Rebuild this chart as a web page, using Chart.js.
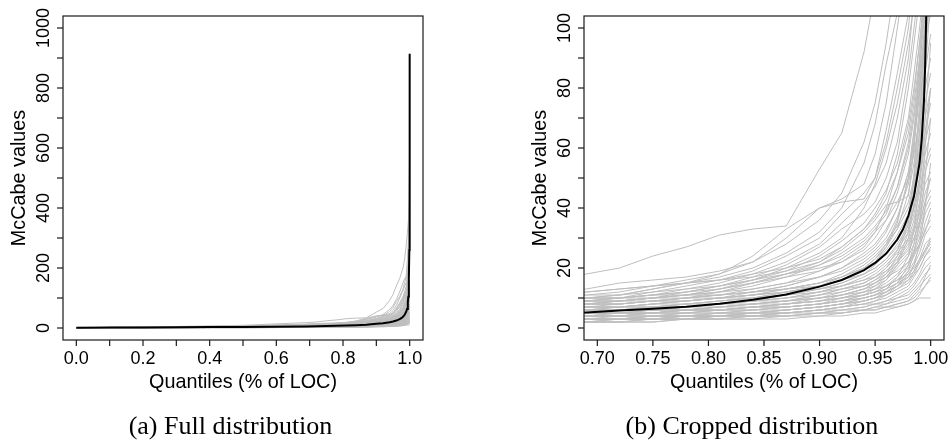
<!DOCTYPE html>
<html>
<head>
<meta charset="utf-8">
<script src="https://cdn.jsdelivr.net/npm/chart.js@4/dist/chart.umd.min.js"></script>
<style>
  html, body { margin: 0; padding: 0; background: #fff; }
  #wrap { position: relative; width: 952px; height: 447px; overflow: hidden; }
  canvas { position: absolute; top: 0; }
  .cap { position: absolute; top: 413px; font-family: "Liberation Serif", "DejaVu Serif", serif; font-size: 26px; line-height: 26px; white-space: nowrap; transform: translateX(-50%); color: #000; }
</style>
</head>
<body>
<div id="wrap">
  <canvas id="left" width="476" height="447" style="left:0"></canvas>
  <canvas id="right" width="476" height="447" style="left:476px"></canvas>
  <div class="cap" style="left:230.5px">(a) Full distribution</div>
  <div class="cap" style="left:752px">(b) Cropped distribution</div>
</div>
<script>
// ---- data ----
const quantiles = [0, 0.25, 0.5, 0.69, 0.72, 0.75, 0.78, 0.81, 0.84, 0.87, 0.9, 0.92, 0.94, 0.95, 0.96, 0.97, 0.98, 0.985, 0.99, 0.995, 1.0];

const projectCurves = [
  [1,4,9,18,20,24,27,31,33,34,53,65,92,112,140,165,200,230,280,340,420],
  [1,3,7,13,15,16,17,19,22,28,36,45,62,75,95,120,150,165,168,170,175],
  [1,3,6,11,12,14,16,18,22,30,40,43,48,58,75,100,125,140,150,220,600],
  [1,3,6,10,11,13,15,17,20,25,32,40,55,68,88,105,130,150,180,260,320],
  [1,3,6,10,10,12,14,16,19,24,30,38,45,50,62,80,100,120,140,200,240],
  [1,2,5,9,10,11,13,15,18,22,28,35,42,47,55,70,90,110,125,160,190],
  [1,2,5,9,10,11,12,14,17,21,27,33,38,42,50,62,85,100,115,135,150],
  [1,2,5,9,9,10,12,14,16,20,25,30,40,48,60,75,95,108,120,140,160],
  [1,2,5,8,9,10,11,13,16,19,24,29,35,40,46,55,70,85,100,118,130],
  [1,2,5,8,9,10,11,12,15,18,22,27,33,37,43,52,65,78,95,110,125],
  [1,2,4,8,8,9,10,12,14,17,21,25,30,34,39,47,60,72,88,105,120],
  [1,2,5,8,9,10,11,13,15,18,20,22,26,30,36,45,58,70,85,100,110],
  [1,2,5,9,10,11,12,13,15,17,19,22,27,32,40,52,68,80,95,115,135],
  [1,3,6,12,13,14,15,16,17,19,22,26,32,36,41,42,44,60,90,120,140],
  [1,3,6,10,11,13,15,18,24,33,40,42,43,50,66,85,105,120,135,150,160],
  [1,3,6,12,13,14,15,16,18,20,23,27,33,38,45,58,80,95,110,130,150],
  [1,3,5,11,11,12,13,14,16,18,21,24,29,33,38,47,62,75,90,110,125],
  [1,2,4,8,8,9,10,11,13,15,19,23,28,32,36,42,50,58,70,95,110],
  [1,2,4,7,8,9,10,11,12,14,17,20,25,28,33,40,52,62,78,100,115],
  [1,2,4,7,7,8,9,10,12,14,17,19,23,26,30,37,48,60,80,95,105],
  [1,2,4,7,7,8,9,10,11,13,15,18,22,25,29,34,42,50,65,85,98],
  [1,2,4,6,7,7,8,9,10,12,14,17,21,24,28,33,40,48,60,80,90],
  [1,2,4,6,7,7,8,9,10,12,14,16,20,22,26,31,38,46,58,75,85],
  [1,2,4,6,6,7,8,9,10,11,13,15,18,21,25,30,36,44,55,70,80],
  [1,2,3,6,6,7,7,8,9,11,13,15,18,20,23,28,34,40,50,65,75],
  [1,2,3,6,6,7,7,8,9,10,12,14,17,19,22,26,32,38,48,62,70],
  [1,2,3,6,6,6,7,8,9,10,12,14,16,18,21,25,30,36,45,58,65],
  [1,2,3,5,6,6,7,8,8,9,11,13,15,17,20,24,29,34,42,55,60],
  [1,2,3,5,5,6,6,7,8,9,11,12,14,16,19,23,28,33,40,52,58],
  [1,2,3,5,5,6,6,7,8,9,10,12,14,16,18,22,27,32,38,48,52],
  [1,2,3,5,5,5,6,7,7,8,10,11,13,15,17,21,25,30,36,45,50],
  [1,2,3,5,5,5,6,6,7,8,9,11,13,14,16,20,24,28,34,42,46],
  [1,2,3,5,5,6,6,7,8,9,10,11,13,15,18,24,35,50,70,100,130],
  [1,2,3,4,5,5,6,6,7,8,9,10,12,14,17,22,32,45,65,90,120],
  [1,1,2,4,4,5,5,6,6,7,8,9,11,13,16,21,30,42,60,85,110],
  [1,2,3,6,6,7,7,8,9,10,11,13,15,17,20,26,36,52,75,105,140],
  [1,2,4,7,7,8,9,10,11,12,14,16,19,22,27,35,50,65,85,110,130],
  [1,2,4,8,8,9,9,10,11,13,15,17,20,23,27,33,45,55,70,95,115],
  [1,2,4,9,9,10,10,11,12,13,15,17,20,23,28,36,50,62,80,100,125],
  [1,2,5,10,10,11,11,12,13,15,17,20,24,27,32,40,52,66,82,100,118],
  [1,1,2,3,3,4,4,4,5,6,7,8,10,11,13,17,24,33,48,70,95],
  [1,1,2,3,3,3,4,4,5,5,6,7,9,10,12,15,21,28,40,60,80],
  [1,1,2,2,3,3,3,4,4,5,6,7,8,9,11,14,19,25,35,50,70],
  [1,1,2,3,3,4,4,5,5,6,7,8,9,10,12,14,17,21,28,40,55],
  [1,2,3,5,5,5,6,6,7,7,8,9,10,11,12,14,16,18,20,24,27],
  [1,2,3,6,6,6,7,7,8,8,9,10,11,12,13,15,17,19,22,25,29],
  [1,2,3,7,7,8,8,8,9,9,10,11,12,13,14,16,18,20,23,26,30],
  [1,2,4,8,8,9,9,10,10,11,12,13,14,15,17,19,22,25,28,32,38],
  [1,2,4,9,9,9,10,10,11,12,13,14,16,17,19,22,26,30,35,42,50],
  [1,2,4,10,10,10,11,11,12,13,14,16,18,20,23,27,33,40,50,65,80],
  [1,1,2,4,5,5,6,6,7,8,9,10,12,13,15,18,22,26,32,40,44],
  [1,1,2,4,4,5,5,6,7,7,8,10,11,12,14,17,21,25,30,38,42],
  [1,1,2,4,4,5,5,6,6,7,8,9,11,12,14,16,20,24,28,35,40],
  [1,1,2,4,4,4,5,5,6,7,8,9,10,11,13,15,19,22,27,33,36],
  [1,1,2,4,4,4,5,5,6,6,7,8,10,11,12,14,18,21,25,31,34],
  [1,1,2,3,4,4,4,5,5,6,7,8,9,10,11,13,16,19,23,28,30],
  [1,1,2,3,3,4,4,5,5,6,7,8,9,10,11,13,15,18,22,26,28],
  [1,1,2,3,3,4,4,4,5,5,6,7,8,9,10,12,14,17,20,24,26],
  [1,1,2,3,3,3,4,4,5,5,6,7,8,8,9,11,13,15,18,22,24],
  [1,1,2,3,3,3,4,4,4,5,6,6,7,8,9,10,12,14,17,20,22],
  [1,1,1,2,3,3,3,4,4,5,5,6,7,8,8,10,11,13,15,18,20],
  [1,1,1,2,2,3,3,3,4,4,5,6,6,7,8,9,10,12,14,16,18],
  [1,1,1,2,2,3,3,3,4,4,5,5,6,7,7,8,9,10,12,14,16],
  [1,1,2,2,2,2,3,3,3,3,4,4,5,5,6,7,8,9,11,14,17],
  [1,1,2,3,3,3,3,4,4,4,5,5,6,6,7,8,9,11,13,17,21],
  [1,1,1,2,2,2,3,3,3,4,4,5,6,6,7,7,8,9,10,10,10]
];

const medianQuantiles = [0, 0.1, 0.2, 0.3, 0.4, 0.5, 0.6, 0.69, 0.72, 0.75, 0.78, 0.81, 0.84, 0.87, 0.9, 0.92, 0.94, 0.95, 0.96, 0.97, 0.975, 0.98, 0.985, 0.99, 0.992, 0.994, 0.995, 0.996, 0.997, 0.998, 0.999, 1.0];
const medianValues = [1, 1.5, 2, 2.5, 3, 3.5, 4.2, 5.2, 5.8, 6.4, 7.1, 8.1, 9.4, 11.2, 13.8, 16, 19.3, 21.7, 24.8, 29.5, 32.8, 37.5, 44, 55, 63, 76, 87, 104, 127, 165, 260, 914];

const leftXTicks = [0, 0.1, 0.2, 0.3, 0.4, 0.5, 0.6, 0.7, 0.8, 0.9, 1.0];
const leftXLabels = ['0.0', '', '0.2', '', '0.4', '', '0.6', '', '0.8', '', '1.0'];
const leftYTicks = [0, 100, 200, 300, 400, 500, 600, 700, 800, 900, 1000];
const leftYLabels = ['0', '', '200', '', '400', '', '600', '', '800', '', '1000'];

const rightXTicks = [0.70, 0.75, 0.80, 0.85, 0.90, 0.95, 1.00];
const rightXLabels = ['0.70', '0.75', '0.80', '0.85', '0.90', '0.95', '1.00'];
const rightYTicks = [0, 10, 20, 30, 40, 50, 60, 70, 80, 90, 100];
const rightYLabels = ['0', '', '20', '', '40', '', '60', '', '80', '', '100'];

const xTitle = 'Quantiles (% of LOC)';
const yTitle = 'McCabe values';

// ---- drawing ----
const TICK_FONT = '18px "Liberation Sans", Arial, Helvetica, sans-serif';
const TITLE_FONT = '19.8px "Liberation Sans", Arial, Helvetica, sans-serif';

function buildDatasets() {
  const ds = [];
  ds.push({
    data: medianQuantiles.map((q, i) => ({ x: q, y: medianValues[i] })),
    borderColor: '#000000', borderWidth: 2, pointRadius: 0, tension: 0, order: 0, clip: 0, fill: false
  });
  projectCurves.forEach(curve => {
    ds.push({
      data: quantiles.map((q, i) => ({ x: q, y: curve[i] })),
      borderColor: '#BEBEBE', borderWidth: 1, pointRadius: 0, tension: 0, order: 1, clip: 0, fill: false
    });
  });
  return ds;
}

function axesPlugin(spec) {
  return {
    id: 'rAxes',
    afterDraw(chart) {
      const ctx = chart.ctx, a = chart.chartArea;
      const xs = chart.scales.x, ys = chart.scales.y;
      ctx.save();
      ctx.strokeStyle = '#1a1a1a';
      ctx.fillStyle = '#000';
      ctx.lineWidth = 1.2;
      ctx.strokeRect(a.left, a.top, a.right - a.left, a.bottom - a.top);
      ctx.font = TICK_FONT;
      ctx.textAlign = 'center';
      ctx.textBaseline = 'alphabetic';
      spec.xTicks.forEach((v, i) => {
        const px = xs.getPixelForValue(v);
        ctx.beginPath(); ctx.moveTo(px, a.bottom); ctx.lineTo(px, a.bottom + 6); ctx.stroke();
        if (spec.xLabels[i]) ctx.fillText(spec.xLabels[i], px, a.bottom + 23.5);
      });
      spec.yTicks.forEach((v, i) => {
        const py = ys.getPixelForValue(v);
        ctx.beginPath(); ctx.moveTo(a.left, py); ctx.lineTo(a.left - 6, py); ctx.stroke();
        if (spec.yLabels[i]) {
          ctx.save();
          ctx.translate(a.left - 14.5, py);
          ctx.rotate(-Math.PI / 2);
          ctx.fillText(spec.yLabels[i], 0, 0);
          ctx.restore();
        }
      });
      ctx.font = TITLE_FONT;
      ctx.fillText(xTitle, (a.left + a.right) / 2, a.bottom + 48);
      ctx.save();
      ctx.translate(a.left - 38, (a.top + a.bottom) / 2);
      ctx.rotate(-Math.PI / 2);
      ctx.fillText(yTitle, 0, 0);
      ctx.restore();
      ctx.restore();
    }
  };
}

function makeChart(id, xr, yr, padding, spec) {
  return new Chart(document.getElementById(id), {
    type: 'line',
    data: { datasets: buildDatasets() },
    options: {
      responsive: false,
      animation: false,
      events: [],
      layout: { padding },
      plugins: { legend: { display: false }, tooltip: { enabled: false }, title: { display: false } },
      scales: {
        x: { type: 'linear', min: xr[0], max: xr[1], display: false },
        y: { type: 'linear', min: yr[0], max: yr[1], display: false }
      }
    },
    plugins: [axesPlugin(spec)]
  });
}

makeChart('left', [-0.04, 1.04], [-40, 1040],
  { left: 63, top: 16, right: 53, bottom: 107 },
  { xTicks: leftXTicks, xLabels: leftXLabels, yTicks: leftYTicks, yLabels: leftYLabels });

makeChart('right', [0.688, 1.012], [-4, 104],
  { left: 108, top: 16, right: 8, bottom: 107 },
  { xTicks: rightXTicks, xLabels: rightXLabels, yTicks: rightYTicks, yLabels: rightYLabels });
</script>
</body>
</html>
